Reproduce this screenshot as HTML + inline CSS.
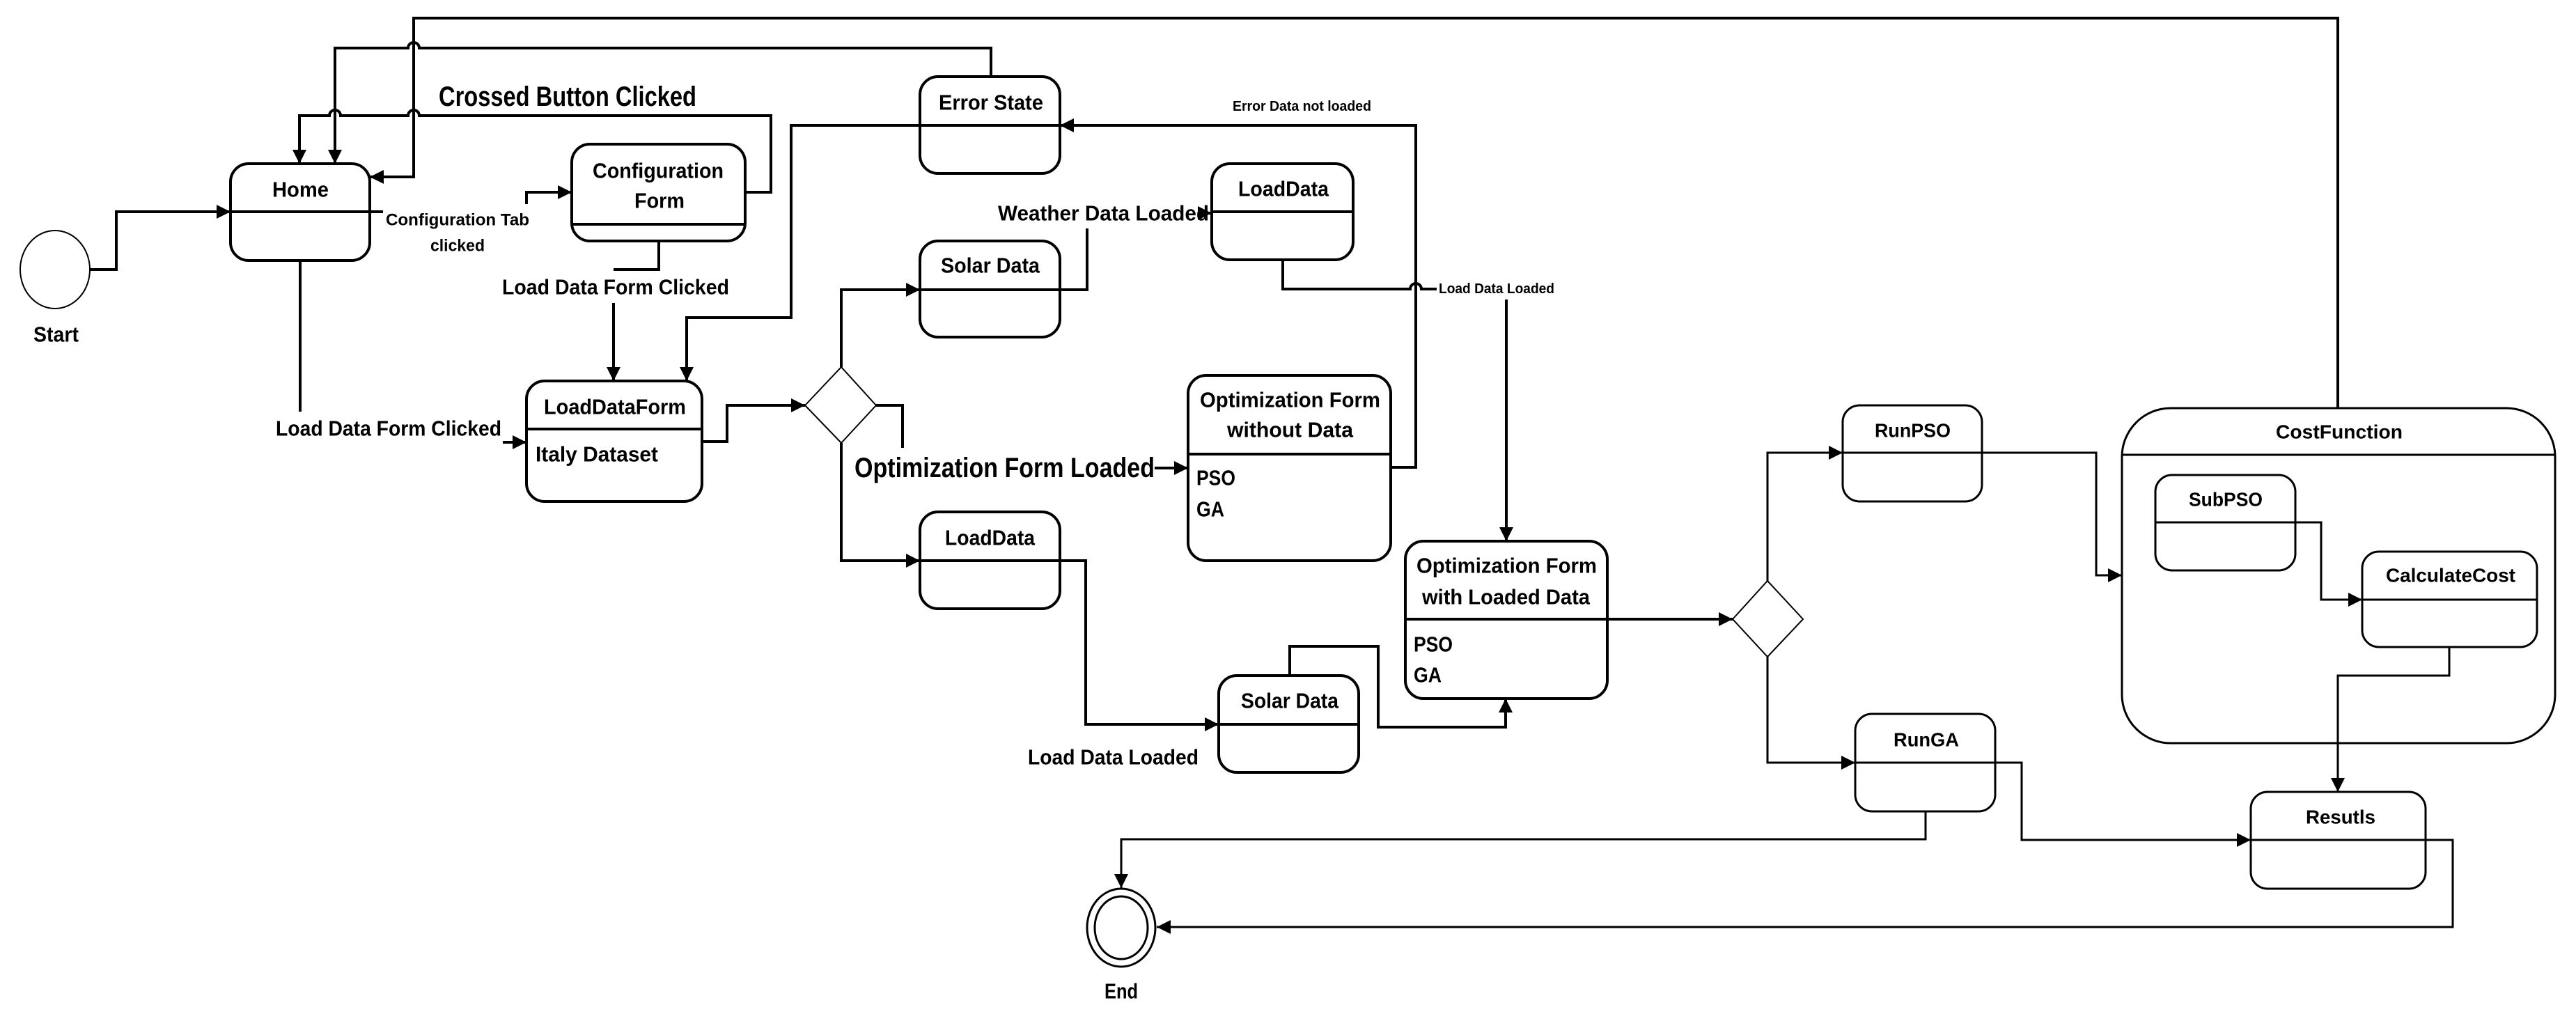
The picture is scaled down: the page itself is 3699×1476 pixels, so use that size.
<!DOCTYPE html>
<html><head><meta charset="utf-8"><style>
html,body{margin:0;padding:0;background:#fff}
svg{display:block}
text{font-family:"Liberation Sans",sans-serif;font-weight:bold;fill:#000;dominant-baseline:central}
</style></head><body>
<svg width="3699" height="1476" viewBox="0 0 3699 1476" xmlns="http://www.w3.org/2000/svg">
<defs>
<marker id="a" markerUnits="userSpaceOnUse" markerWidth="22" markerHeight="20" refX="20" refY="10" orient="auto">
<path d="M0,0 L20,10 L0,20 z" fill="#000"/>
</marker>
</defs>
<g fill="none" stroke="#000" stroke-width="4">
<rect x="331" y="235" width="200" height="139" rx="26"/><line x1="331" y1="304" x2="550" y2="304"/>
<rect x="821" y="207" width="249" height="139" rx="26"/><line x1="821" y1="322" x2="1070" y2="322"/>
<rect x="756" y="547" width="252" height="173" rx="26"/><line x1="756" y1="616" x2="1008" y2="616"/>
<rect x="1321" y="110" width="201" height="139" rx="26"/><line x1="1321" y1="180" x2="1522" y2="180"/>
<rect x="1321" y="346" width="201" height="138" rx="26"/><line x1="1321" y1="416" x2="1522" y2="416"/>
<rect x="1740" y="235" width="203" height="138" rx="26"/><line x1="1740" y1="304" x2="1943" y2="304"/>
<rect x="1706" y="539" width="291" height="266" rx="26"/><line x1="1706" y1="652" x2="1997" y2="652"/>
<rect x="1321" y="735" width="201" height="139" rx="26"/><line x1="1321" y1="805" x2="1522" y2="805"/>
<rect x="1750" y="970" width="201" height="139" rx="26"/><line x1="1750" y1="1040" x2="1951" y2="1040"/>
<rect x="2018" y="777" width="290" height="226" rx="26"/><line x1="2018" y1="889" x2="2308" y2="889"/>
</g>
<g fill="none" stroke="#000" stroke-width="3">
<rect x="2646" y="582" width="200" height="138" rx="24"/>
<rect x="2664" y="1025" width="201" height="140" rx="24"/>
<rect x="3095" y="682" width="201" height="137" rx="24"/><line x1="3095" y1="750" x2="3296" y2="750"/>
<rect x="3392" y="792" width="251" height="137" rx="24"/><line x1="3392" y1="861" x2="3643" y2="861"/>
<rect x="3232" y="1137" width="251" height="139" rx="24"/>
<rect x="3047" y="586" width="622" height="481" rx="70"/><line x1="3047" y1="653" x2="3669" y2="653"/>
</g>
<g fill="none" stroke="#000" stroke-width="2">
<polygon points="1156,582 1208,527 1258,582 1208,636" fill="#fff"/>
<polygon points="2488,889 2538,834 2589,889 2538,943" fill="#fff"/>
<ellipse cx="79" cy="387" rx="50" ry="56"/>
<ellipse cx="1610" cy="1332" rx="49" ry="56" stroke-width="3"/>
<ellipse cx="1610" cy="1332" rx="38" ry="45" stroke-width="3"/>
</g>
<g fill="none" stroke="#000" stroke-width="4">
<path d="M129,387 H167 V304 H331" marker-end="url(#a)"/>
<path d="M756,293 V276 H821" marker-end="url(#a)"/>
<path d="M1070,276 H1107 V166 H602 A8,8 0 0 0 586,166 H489 A8,8 0 0 0 473,166 H430 V235" marker-end="url(#a)"/>
<path d="M1423,110 V69 H602 A8,8 0 0 0 586,69 H481 V235" marker-end="url(#a)"/>
<path d="M3357,586 V26 H594 V254 H531" marker-end="url(#a)"/>
<path d="M431,374 V591"/>
<path d="M722,635 H756" marker-end="url(#a)"/>
<path d="M946,346 V387 H881"/>
<path d="M881,435 V547" marker-end="url(#a)"/>
<path d="M1321,180 H1136 V456 H986 V547" marker-end="url(#a)"/>
<path d="M1997,671 H2033 V180 H1522" marker-end="url(#a)"/>
<path d="M1008,634 H1044 V582 H1156" marker-end="url(#a)"/>
<path d="M1208,527 V416 H1321" marker-end="url(#a)"/>
<path d="M1522,416 H1561 V328"/>
<path d="M1722,306 H1740" marker-end="url(#a)"/>
<path d="M1842,373 V415 H2025 A8,8 0 0 1 2041,415 H2063"/>
<path d="M2163,430 V777" marker-end="url(#a)"/>
<path d="M1258,582 H1296 V643"/>
<path d="M1658,672 H1706" marker-end="url(#a)"/>
<path d="M1208,636 V805 H1321" marker-end="url(#a)"/>
<path d="M1522,805 H1559 V1040 H1750" marker-end="url(#a)"/>
<path d="M1852,970 V928 H1979 V1044 H2162 V1003" marker-end="url(#a)"/>
<path d="M2308,889 H2488" marker-end="url(#a)"/>
</g>
<g fill="none" stroke="#000" stroke-width="3">
<path d="M2538,834 V650 H2646" marker-end="url(#a)"/>
<path d="M2846,650 H3010 V826 H3047" marker-end="url(#a)"/>
<path d="M3296,750 H3333 V861 H3392" marker-end="url(#a)"/>
<path d="M3517,929 V970 H3357 V1137" marker-end="url(#a)"/>
<path d="M2538,943 V1095 H2664" marker-end="url(#a)"/>
<path d="M2865,1095 H2903 V1206 H3232" marker-end="url(#a)"/>
<path d="M2765,1165 V1205 H1610 V1275" marker-end="url(#a)"/>
<path d="M3483,1206 H3522 V1331 H1661" marker-end="url(#a)"/>
<line x1="2646" y1="650" x2="2846" y2="650"/>
<line x1="2664" y1="1095" x2="2865" y2="1095"/>
<line x1="3232" y1="1206" x2="3483" y2="1206"/>
</g>
<g font-size="31">
<text x="391" y="272" textLength="81" lengthAdjust="spacingAndGlyphs">Home</text>
<text x="48" y="480" textLength="65" lengthAdjust="spacingAndGlyphs">Start</text>
<text x="851" y="245" textLength="188" lengthAdjust="spacingAndGlyphs">Configuration</text>
<text x="911" y="288" textLength="72" lengthAdjust="spacingAndGlyphs">Form</text>
<text x="781" y="584" textLength="204" lengthAdjust="spacingAndGlyphs">LoadDataForm</text>
<text x="769" y="652" textLength="176" lengthAdjust="spacingAndGlyphs">Italy Dataset</text>
<text x="1348" y="147" textLength="150" lengthAdjust="spacingAndGlyphs">Error State</text>
<text x="1778" y="271" textLength="130" lengthAdjust="spacingAndGlyphs">LoadData</text>
<text x="1351" y="381" textLength="142" lengthAdjust="spacingAndGlyphs">Solar Data</text>
<text x="1357" y="772" textLength="129" lengthAdjust="spacingAndGlyphs">LoadData</text>
<text x="1782" y="1006" textLength="140" lengthAdjust="spacingAndGlyphs">Solar Data</text>
<text x="1723" y="574" textLength="259" lengthAdjust="spacingAndGlyphs">Optimization Form</text>
<text x="1762" y="617" textLength="181" lengthAdjust="spacingAndGlyphs">without Data</text>
<text x="1718" y="686" textLength="56" lengthAdjust="spacingAndGlyphs">PSO</text>
<text x="1718" y="731" textLength="40" lengthAdjust="spacingAndGlyphs">GA</text>
<text x="2034" y="812" textLength="259" lengthAdjust="spacingAndGlyphs">Optimization Form</text>
<text x="2042" y="857" textLength="241" lengthAdjust="spacingAndGlyphs">with Loaded Data</text>
<text x="2030" y="925" textLength="56" lengthAdjust="spacingAndGlyphs">PSO</text>
<text x="2030" y="969" textLength="40" lengthAdjust="spacingAndGlyphs">GA</text>
<text x="1586" y="1423" textLength="48" lengthAdjust="spacingAndGlyphs">End</text>
<text x="396" y="615" textLength="324" lengthAdjust="spacingAndGlyphs">Load Data Form Clicked</text>
<text x="721" y="412" textLength="326" lengthAdjust="spacingAndGlyphs">Load Data Form Clicked</text>
<text x="1433" y="306" textLength="303" lengthAdjust="spacingAndGlyphs">Weather Data Loaded</text>
<text x="1476" y="1087" textLength="245" lengthAdjust="spacingAndGlyphs">Load Data Loaded</text>
</g>
<g font-size="40">
<text x="630" y="139" textLength="370" lengthAdjust="spacingAndGlyphs">Crossed Button Clicked</text>
<text x="1227" y="672" textLength="431" lengthAdjust="spacingAndGlyphs">Optimization Form Loaded</text>
</g>
<g font-size="24">
<text x="554" y="316" textLength="206" lengthAdjust="spacingAndGlyphs">Configuration Tab</text>
<text x="618" y="353" textLength="78" lengthAdjust="spacingAndGlyphs">clicked</text>
</g>
<g font-size="20">
<text x="1770" y="153" textLength="199" lengthAdjust="spacingAndGlyphs">Error Data not loaded</text>
<text x="2066" y="415" textLength="166" lengthAdjust="spacingAndGlyphs">Load Data Loaded</text>
</g>
<g font-size="28">
<text x="2692" y="618" textLength="109" lengthAdjust="spacingAndGlyphs">RunPSO</text>
<text x="3268" y="620" textLength="182" lengthAdjust="spacingAndGlyphs">CostFunction</text>
<text x="3143" y="717" textLength="106" lengthAdjust="spacingAndGlyphs">SubPSO</text>
<text x="3426" y="826" textLength="186" lengthAdjust="spacingAndGlyphs">CalculateCost</text>
<text x="2719" y="1062" textLength="94" lengthAdjust="spacingAndGlyphs">RunGA</text>
<text x="3311" y="1173" textLength="100" lengthAdjust="spacingAndGlyphs">Resutls</text>
</g>
</svg>
</body></html>
